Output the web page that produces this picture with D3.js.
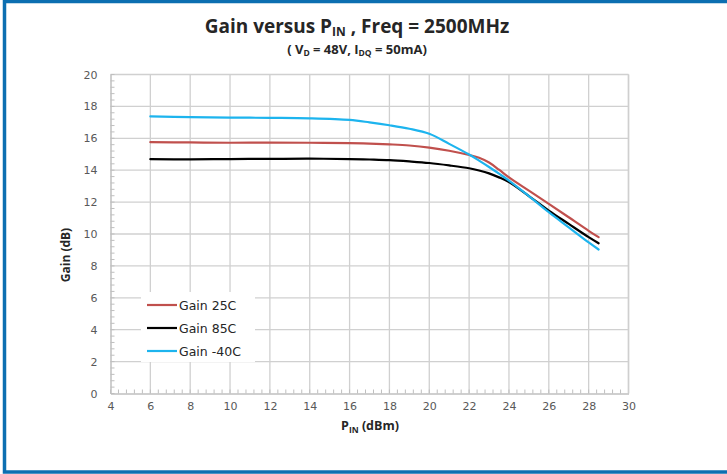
<!DOCTYPE html>
<html>
<head>
<meta charset="utf-8">
<script src="https://cdn.jsdelivr.net/npm/d3@7"></script>
<style>
  body { margin: 0; background: #fff; }
  svg { display: block; }
  .tick text { font-family: "DejaVu Sans", Verdana, sans-serif; font-size: 11px; fill: #595959; }
</style>
</head>
<body>
<svg width="727" height="474"></svg>
<script>
// input power (dBm)
const pin = [6, 8, 10, 12, 14, 16, 17, 18, 19, 20, 21, 22, 22.5, 23, 23.5, 24, 25, 26, 27, 28, 28.5];
// gain (dB) per temperature
const gain25 = [15.76, 15.74, 15.72, 15.73, 15.72, 15.70, 15.67, 15.62, 15.55, 15.42, 15.22, 14.95, 14.78, 14.48, 14.03, 13.55, 12.72, 11.89, 11.05, 10.2, 9.8];
const gain85 = [14.69, 14.68, 14.70, 14.71, 14.72, 14.70, 14.67, 14.63, 14.55, 14.45, 14.3, 14.12, 13.98, 13.8, 13.55, 13.25, 12.38, 11.47, 10.63, 9.8, 9.42];
const gainM40 = [17.37, 17.33, 17.30, 17.28, 17.25, 17.15, 17.0, 16.82, 16.6, 16.28, 15.65, 14.98, 14.6, 14.2, 13.78, 13.35, 12.38, 11.37, 10.42, 9.47, 9.03];

const seriesNames = ["Gain 25C", "Gain 85C", "Gain -40C"];
const seriesColors = ["#c0504d", "#000000", "#1db4ee"];
const xTicks = d3.range(4, 31, 2);
const yTicks = d3.range(0, 21, 2);

const svg = d3.select("svg");

// outer frame
svg.append("rect")
  .attr("x", 4.5).attr("y", 1.5)
  .attr("width", 740).attr("height", 470.5)
  .attr("fill", "none")
  .attr("stroke", "#0c6fb1")
  .attr("stroke-width", 3.5);

const x = d3.scaleLinear().domain([4, 30]).range([110.5, 628.5]);
const y = d3.scaleLinear().domain([0, 20]).range([393.5, 74.5]);

// gridlines
const grid = svg.append("g").attr("stroke", "#d0d0d0").attr("stroke-width", 1.3);
grid.selectAll(".gx").data(xTicks.slice(1)).join("line")
  .attr("x1", d => x(d)).attr("x2", d => x(d))
  .attr("y1", y(0)).attr("y2", y(20));
grid.selectAll(".gy").data(yTicks.slice(1)).join("line")
  .attr("x1", x(4)).attr("x2", x(30))
  .attr("y1", d => y(d)).attr("y2", d => y(d));

// minor ticks
const xMinor = d3.range(4, 30.01, 0.4);
const yMinor = d3.range(0, 20.01, 0.4);
const mt = svg.append("g").attr("stroke", "#bfbfbf").attr("stroke-width", 1);
mt.selectAll(".mx").data(xMinor).join("line")
  .attr("x1", d => x(d)).attr("x2", d => x(d))
  .attr("y1", y(0)).attr("y2", y(0) - 4);
mt.selectAll(".my").data(yMinor).join("line")
  .attr("x1", x(4)).attr("x2", x(4) + 4)
  .attr("y1", d => y(d)).attr("y2", d => y(d));

// axes
const xAxis = svg.append("g")
  .attr("transform", `translate(0,${y(0)})`)
  .call(d3.axisBottom(x).tickValues(xTicks).tickSize(0).tickPadding(9));
const yAxis = svg.append("g")
  .attr("transform", `translate(${x(4)},0)`)
  .call(d3.axisLeft(y).tickValues(yTicks).tickSize(0).tickPadding(13));
[xAxis, yAxis].forEach(a => a.select(".domain").attr("stroke", "#bfbfbf").attr("stroke-width", 1.5));

// plot border on the right
svg.append("line").attr("x1", x(30)).attr("x2", x(30)).attr("y1", y(0)).attr("y2", y(20))
  .attr("stroke", "#cfcfcf").attr("stroke-width", 1.5);

// legend background hides gridlines
svg.append("rect").attr("x", 141).attr("y", 292).attr("width", 114).attr("height", 70).attr("fill", "#fff");

// series
const series = [gain25, gain85, gainM40];
const line = d3.line()
  .x(d => x(d[0]))
  .y(d => y(d[1]))
  .curve(d3.curveCatmullRom.alpha(0.5));
svg.append("g").selectAll("path")
  .data(series)
  .join("path")
  .attr("d", s => line(pin.map((p, i) => [p, s[i]])))
  .attr("fill", "none")
  .attr("stroke", (s, i) => seriesColors[i])
  .attr("stroke-width", 2.2)
  .attr("stroke-linecap", "round");

// legend
const leg = svg.append("g").selectAll("g").data(seriesNames).join("g")
  .attr("transform", (d, i) => `translate(147,${305 + i * 23})`);
leg.append("line").attr("x1", 0).attr("x2", 30)
  .attr("stroke", (d, i) => seriesColors[i]).attr("stroke-width", 2.2);
leg.append("text").attr("x", 32).attr("y", 4.5)
  .attr("font-family", "DejaVu Sans, Verdana, sans-serif").attr("font-size", 12.5)
  .attr("fill", "#262626").text(d => d);

// titles
const title = svg.append("text").attr("x", 357).attr("y", 33)
  .attr("text-anchor", "middle")
  .attr("font-family", "Open Sans, Liberation Sans, sans-serif")
  .attr("font-weight", "bold").attr("font-size", 19).attr("fill", "#262626");
title.append("tspan").text("Gain versus P");
title.append("tspan").attr("font-size", 12).attr("dy", 3).text("IN");
title.append("tspan").attr("dy", -3).text(" , Freq = 2500MHz");

const sub = svg.append("text").attr("x", 357).attr("y", 54)
  .attr("text-anchor", "middle")
  .attr("font-family", "Open Sans, Liberation Sans, sans-serif")
  .attr("font-weight", "bold").attr("font-size", 13).attr("fill", "#262626");
sub.append("tspan").text("( V");
sub.append("tspan").attr("font-size", 8.5).attr("dy", 2).text("D");
sub.append("tspan").attr("dy", -2).text(" = 48V, I");
sub.append("tspan").attr("font-size", 8.5).attr("dy", 2).text("DQ");
sub.append("tspan").attr("dy", -2).text(" = 50mA)");

const xt = svg.append("text").attr("x", 370).attr("y", 430)
  .attr("text-anchor", "middle")
  .attr("font-family", "Open Sans, Liberation Sans, sans-serif")
  .attr("font-weight", "bold").attr("font-size", 12.5).attr("fill", "#262626");
xt.append("tspan").text("P");
xt.append("tspan").attr("font-size", 8.5).attr("dy", 3).text("IN");
xt.append("tspan").attr("dy", -3).text(" (dBm)");

svg.append("text")
  .attr("transform", "translate(70,255) rotate(-90)")
  .attr("text-anchor", "middle")
  .attr("font-family", "Open Sans, Liberation Sans, sans-serif")
  .attr("font-weight", "bold").attr("font-size", 12).attr("fill", "#262626")
  .text("Gain (dB)");
</script>
</body>
</html>
